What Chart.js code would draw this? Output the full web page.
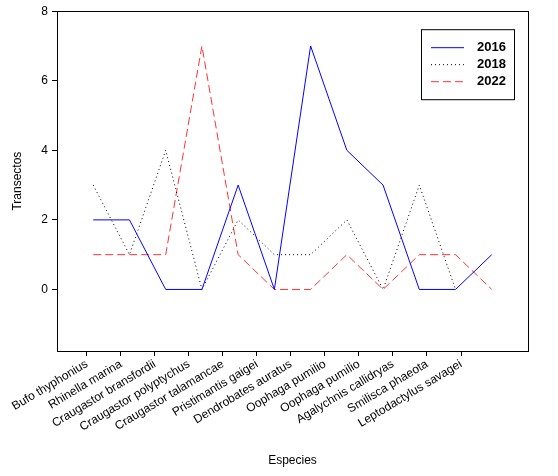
<!DOCTYPE html>
<html>
<head>
<meta charset="utf-8">
<script src="https://cdn.jsdelivr.net/npm/chart.js@4/dist/chart.umd.min.js"></script>
<style>
  html, body { margin: 0; padding: 0; background: #fff; }
  #wrap { width: 558px; height: 476px; }
</style>
</head>
<body>
<div id="wrap"><canvas id="chart"></canvas></div>
<script>
const species = [
  "Bufo thyphonius", "Rhinella marina", "Craugastor bransfordii",
  "Craugastor polyptychus", "Craugastor talamancae", "Pristimantis gaigei",
  "Dendrobates auratus", "Oophaga pumilio", "Oophaga pumilio",
  "Agalychnis callidryas", "Smilisca phaeota", "Leptodactylus savagei"
];
const years = ["2016", "2018", "2022"];
const v2016 = [2, 2, 0, 0, 3, 0, 7, 4, 3, 0, 0, 1];
const v2018 = [3, 1, 4, 0, 2, 1, 1, 2, 0, 3, 0, null];
const v2022 = [1, 1, 1, 7, 1, 0, 0, 1, 0, 1, 1, 0];
const yTicks = [0, 2, 4, 6, 8];

const FONT = "'Liberation Sans', Arial, sans-serif";
const toPoints = vals => vals.map((v, i) => ({ x: i, y: v }));

// box around the plot area
const frame = {
  id: "frame",
  afterDatasetsDraw(chart) {
    const { ctx, chartArea: a } = chart;
    ctx.save();
    ctx.strokeStyle = "#000";
    ctx.lineWidth = 1;
    ctx.strokeRect(Math.round(a.left) + 0.5, Math.round(a.top) + 0.5,
      Math.round(a.right - a.left), Math.round(a.bottom - a.top));
    ctx.restore();
  }
};

// boxed legend inside the plot, top right
const boxLegend = {
  id: "boxLegend",
  afterDraw(chart) {
    const { ctx, chartArea: a } = chart;
    const x0 = a.right - 107, y0 = a.top + 18, w = 93, h = 70;
    ctx.save();
    ctx.fillStyle = "#fff";
    ctx.fillRect(x0, y0, w, h);
    ctx.strokeStyle = "#000";
    ctx.lineWidth = 1;
    ctx.strokeRect(x0 + 0.5, y0 + 0.5, w, h);
    chart.data.datasets.forEach((ds, i) => {
      const y = y0 + 18 + i * 17 + 0.5;
      ctx.beginPath();
      ctx.setLineDash(ds.borderDash || []);
      ctx.strokeStyle = ds.borderColor;
      ctx.moveTo(x0 + 10, y);
      ctx.lineTo(x0 + 43, y);
      ctx.stroke();
      ctx.setLineDash([]);
      ctx.fillStyle = "#000";
      ctx.font = "bold 13px " + FONT;
      ctx.textBaseline = "middle";
      ctx.fillText(ds.label, x0 + 56, y);
    });
    ctx.restore();
  }
};

new Chart(document.getElementById("chart"), {
  type: "line",
  data: {
    datasets: [
      { label: years[0], data: toPoints(v2016), borderColor: "#0000ff", borderWidth: 1 },
      { label: years[1], data: toPoints(v2018), borderColor: "#000000", borderWidth: 1, borderDash: [1, 3] },
      { label: years[2], data: toPoints(v2022), borderColor: "#ff3333", borderWidth: 1, borderDash: [8, 4] }
    ]
  },
  options: {
    responsive: true,
    maintainAspectRatio: false,
    animation: false,
    layout: { padding: { left: 0, right: 30, top: 11, bottom: 0 } },
    elements: { point: { radius: 0 }, line: { tension: 0 } },
    plugins: { legend: { display: false }, tooltip: { enabled: false } },
    scales: {
      x: { type: "linear", min: -1, max: 12, display: false },
      xl: {
        type: "linear",
        position: "bottom",
        min: -0.88,
        max: 12.97,
        afterBuildTicks: s => { s.ticks = species.map((_, i) => ({ value: i })); },
        afterFit: s => { s.height = 125; },
        ticks: {
          autoSkip: false,
          minRotation: 31,
          maxRotation: 31,
          padding: 1,
          color: "#000",
          font: { family: FONT, size: 12 },
          callback: v => species[v]
        },
        grid: { drawOnChartArea: false, tickLength: 5, color: "#000" },
        border: { color: "#000" },
        title: {
          display: true,
          text: "Especies",
          color: "#000",
          font: { family: FONT, size: 12 },
          padding: { top: 0, bottom: 8 }
        }
      },
      y: {
        min: -1.77,
        max: 8,
        afterBuildTicks: s => { s.ticks = yTicks.map(v => ({ value: v })); },
        afterFit: s => { s.width = 57; },
        ticks: {
          padding: 4,
          color: "#000",
          font: { family: FONT, size: 12 }
        },
        grid: { drawOnChartArea: false, tickLength: 5, color: "#000" },
        border: { color: "#000" },
        title: {
          display: true,
          text: "Transectos",
          color: "#000",
          font: { family: FONT, size: 12 },
          padding: { top: 10, bottom: 2 }
        }
      }
    }
  },
  plugins: [frame, boxLegend]
});
</script>
</body>
</html>
